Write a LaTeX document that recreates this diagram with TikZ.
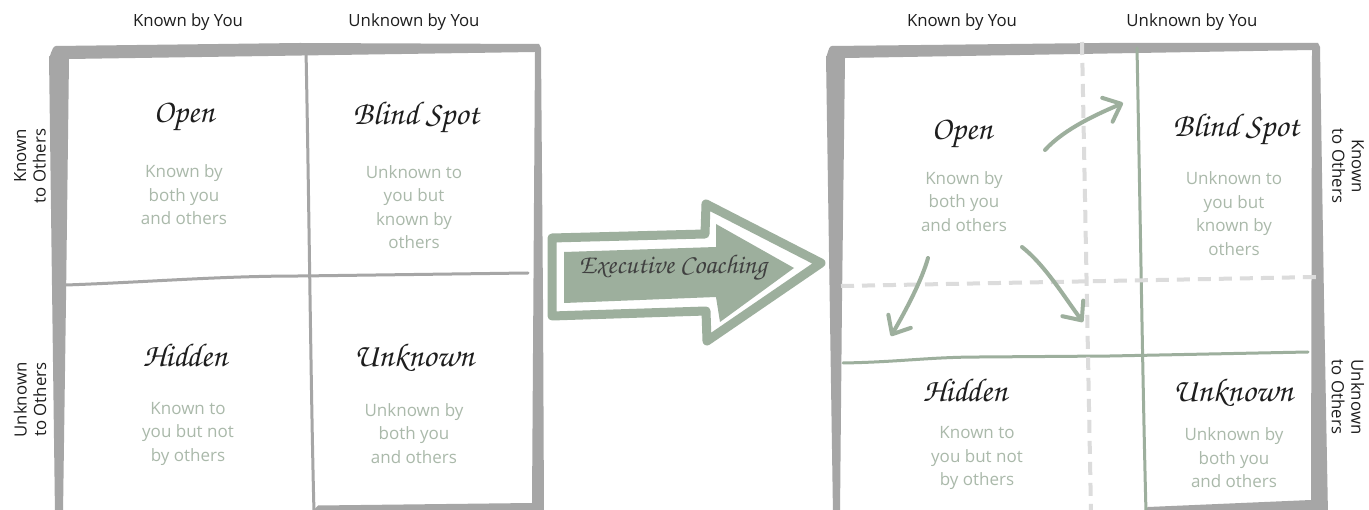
\documentclass[tikz,border=0pt]{standalone}
\usepackage[T1]{fontenc}
\usepackage{fontspec}
\setmainfont{Open Sans}
\usetikzlibrary{arrows.meta}

\definecolor{framegray}{HTML}{A6A6A6}
\definecolor{sage}{HTML}{9DAF9D}
\definecolor{softsage}{HTML}{AAB9AA}
\definecolor{dashgray}{HTML}{DCDCDC}
\definecolor{ink}{HTML}{1E1E1E}

% calligraphic face for the quadrant titles and the arrow caption
\newcommand{\handface}{\fontencoding{T1}\fontfamily{pzc}\fontseries{mb}\fontshape{it}\selectfont}

\tikzset{
  axislabel/.style={font=\fontsize{16.8}{19.5}\selectfont, text=ink, inner sep=0},
  quadtitle/.style={font=\handface\fontsize{33}{36}\selectfont, text=ink, anchor=base, inner sep=0},
  quaddesc/.style={font=\fontsize{17}{23.5}\selectfont, text=softsage, align=center, inner sep=0},
  gridgray/.style={draw=framegray, line width=3, line cap=round},
  gridsage/.style={draw=sage, line width=3, line cap=round},
  gridguide/.style={draw=dashgray, line width=4, dash pattern=on 13 off 8},
  moveline/.style={draw=sage, line width=4, line cap=round,
    -{Straight Barb[length=15, width=26, round]}},
}

\begin{document}
\begin{tikzpicture}[x=1pt, y=-1pt]
  \useasboundingbox (0,0) rectangle (1369,510);
  \clip (0,0) rectangle (1369,510);
  \fill[white] (0,0) rectangle (1369,510);

  % ---------- left window ----------
  \fill[framegray, even odd rule]
    (49,56) to[out=-80,in=180] (56,46) -- (300,43) -- (539,44) -- (541,48)
    -- (543,300) -- (544,515) -- (55,515) -- cycle
    (69,59) -- (535,52) -- (532,503) -- (318,505.5) -- (310,514) -- (63,514) -- (66,300) -- cycle;

  \draw[gridgray] (306,50) .. controls (309,200) and (311,400) .. (314,512);
  \draw[gridgray] (66,285) .. controls (150,282) and (220,276) .. (300,276) -- (528,273);

  \node[axislabel] (lk) at (188,22) {Known by You};
  \node[axislabel] (lu) at (414,22) {Unknown by You};
  \node[axislabel, rotate=90, align=right] (lko) at (30,166) {Known\\to Others};
  \node[axislabel, rotate=90, align=right] (luo) at (30,400) {Unknown\\to Others};

  \node[quadtitle] (lopen) at (184,123) {Open};
  \node[quadtitle] (lblind) at (416,125) {Blind Spot};
  \node[quadtitle] (lhidden) at (185,367) {Hidden};
  \node[quadtitle] (lunknown) at (414,367) {Unknown};

  \node[quaddesc] (lopend) at (184,195) {Known by\\both you\\and others};
  \node[quaddesc] (lblindd) at (414,207) {Unknown to\\you but\\known by\\others};
  \node[quaddesc] (lhiddend) at (188,433.5) {Known to\\you but not\\by others};
  \node[quaddesc] (lunknownd) at (414,433.5) {Unknown by\\both you\\and others};

  % ---------- coaching arrow ----------
  \draw[sage, line width=9, line join=round]
    (552,238) -- (705,234) -- (706,204) -- (821,263) -- (707,341) -- (706,311) -- (552,316) -- cycle;
  \fill[sage]
    (564,252) -- (716,247) -- (716,224) -- (794,268) -- (720,322) -- (716,297) -- (564,303) -- cycle;
  \node[font=\handface\fontsize{27}{30}\selectfont, text=ink!85] (coach) at (673,268) {Executive Coaching};

  % ---------- right window ----------
  \fill[framegray, even odd rule]
    (826,56) to[out=-80,in=180] (832,46) -- (1100,43) -- (1318,43) -- (1320,47)
    -- (1324,300) -- (1328,515) -- (833,515) -- cycle
    (845,58) -- (1312,50) -- (1311,500) -- (1148,507) -- (1140,514) -- (840,514) -- (842,300) -- cycle;

  \draw[gridsage] (1137,48) .. controls (1140,200) and (1143,400) .. (1146,512);
  \draw[gridsage] (843,363) .. controls (900,362) and (930,357) .. (980,357) -- (1110,356) -- (1308,352);

  \draw[gridguide] (1082,42) -- (1091,512);
  \draw[gridguide] (841,286) -- (1316,277);

  \node[axislabel] (rk) at (962,22) {Known by You};
  \node[axislabel] (ru) at (1192,22) {Unknown by You};
  \node[axislabel, rotate=-90, align=center] (rko) at (1348,166) {Known\\to Others};
  \node[axislabel, rotate=-90, align=center] (ruo) at (1348,397) {Unknown\\to Others};

  \node[quadtitle] (ropen) at (962,140) {Open};
  \node[quadtitle] (rblind) at (1236,137) {Blind Spot};
  \node[quadtitle] (rhidden) at (965,402) {Hidden};
  \node[quadtitle] (runknown) at (1233,402) {Unknown};

  \node[quaddesc] (ropend) at (964,201.5) {Known by\\both you\\and others};
  \node[quaddesc] (rblindd) at (1234,213.5) {Unknown to\\you but\\known by\\others};
  \node[quaddesc] (rhiddend) at (977,458) {Known to\\you but not\\by others};
  \node[quaddesc] (runknownd) at (1234,458) {Unknown by\\both you\\and others};

  % growth of the open area
  \coordinate (a1s) at (1045,150);
  \coordinate (a1e) at (1123,103);
  \coordinate (a2s) at (928,258);
  \coordinate (a2e) at (891,336);
  \coordinate (a3s) at (1022,247);
  \coordinate (a3e) at (1083,322);
  \draw[moveline] (a1s) .. controls (1065,128) and (1100,113) .. (a1e);
  \draw[moveline] (a2s) .. controls (922,280) and (905,312) .. (a2e);
  \draw[moveline] (a3s) .. controls (1045,265) and (1065,298) .. (a3e);
\end{tikzpicture}
\end{document}
